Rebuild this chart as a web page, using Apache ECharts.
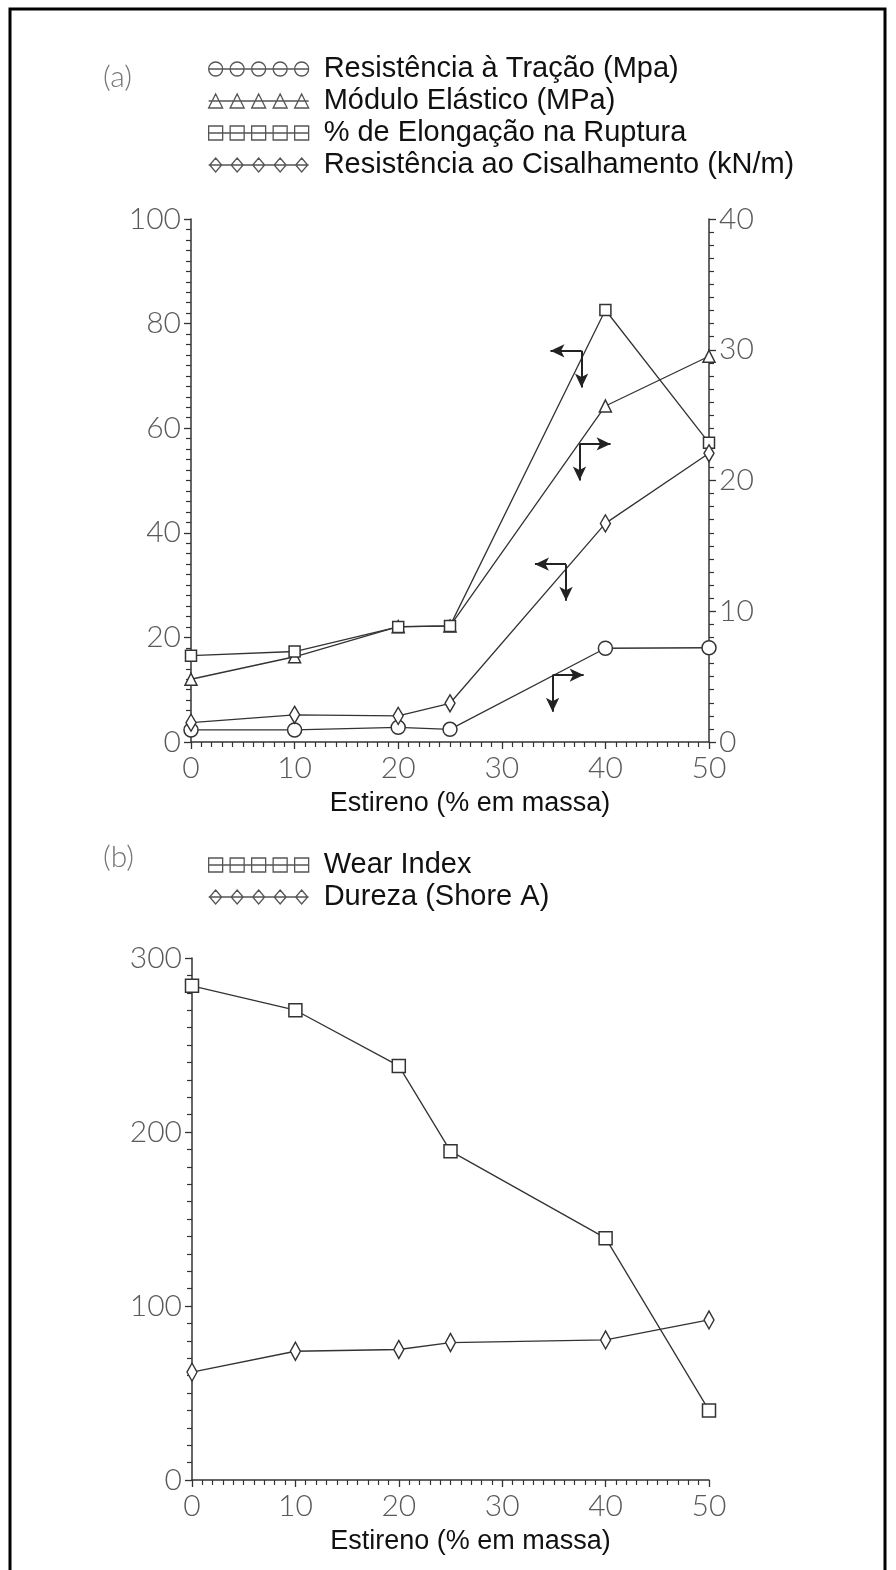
<!DOCTYPE html>
<html><head><meta charset="utf-8">
<script src="https://cdn.jsdelivr.net/npm/echarts@6/dist/echarts.min.js"></script>
<style>html,body{margin:0;padding:0;background:#fff}#c{width:896px;height:1570px}</style>
</head><body><div id="c"></div>
<script>
// ---- data ----
const styrene = [0, 10, 20, 25, 40, 50];
const tracao = [0.92, 0.92, 1.12, 0.97, 7.17, 7.21];          // right axis
const modulo = [4.80, 6.52, 8.82, 8.87, 25.7, 29.5];          // right axis
const elongacao = [16.5, 17.3, 22.0, 22.2, 82.6, 57.2];       // left axis
const cisalhamento = [3.7, 5.2, 5.0, 7.4, 41.8, 55.2];        // left axis
const wearIndex = [284, 270, 238, 189, 139, 40];
const dureza = [62, 74, 75, 79, 80.5, 92];
const namesA = ['Resistência à Tração (Mpa)', 'Módulo Elástico (MPa)', '% de Elongação na Ruptura', 'Resistência ao Cisalhamento (kN/m)'];
const namesB = ['Wear Index', 'Dureza (Shore A)'];
const xAxisTitle = 'Estireno (% em massa)';
// arrow annotations: [x, y on left axis, horizontal direction]
const arrowsA = [[37.7, 74.8, 'left'], [37.5, 57.0, 'right'], [36.2, 34.0, 'left'], [34.9, 12.8, 'right']];

// ---- helpers ----
const pts = arr => styrene.map((x, i) => [x, arr[i]]);
const ink = '#333';
const tickFont = { fontFamily: 'Lato', fontWeight: 300, fontSize: 30, color: '#5a5a5a' };
function iconPath(kind) {
  const cs = [7, 28.5, 50, 71.5, 93];
  let d = 'M0 7 L100 7 ';
  cs.forEach(c => {
    if (kind === 'circle') d += `M${c - 7} 7 A7 7 0 1 0 ${c + 7} 7 A7 7 0 1 0 ${c - 7} 7 `;
    if (kind === 'triangle') d += `M${c - 7} 14 L${c} 0 L${c + 7} 14 Z `;
    if (kind === 'rect') d += `M${c - 7} 0 L${c + 7} 0 L${c + 7} 14 L${c - 7} 14 Z `;
    if (kind === 'diamond') d += `M${c} 0 L${c + 6} 7 L${c} 14 L${c - 6} 7 Z `;
  });
  return 'path://' + d;
}
function lineSeries(name, data, symbol, size, xi, yi) {
  return {
    name, type: 'line', data: pts(data), xAxisIndex: xi, yAxisIndex: yi,
    symbol, symbolSize: size, showSymbol: true,
    lineStyle: { color: ink, width: 1.3 },
    itemStyle: { color: '#fff', borderColor: ink, borderWidth: 1.5 },
    emphasis: { disabled: true }, animation: false
  };
}
function arrowLines() {
  const out = [];
  arrowsA.forEach(([x, y, dir]) => {
    out.push([{ coord: [x, y] }, { coord: [dir === 'left' ? x - 3 : x + 3, y] }]);
    out.push([{ coord: [x, y] }, { coord: [x, y - 7] }]);
  });
  return out;
}
const xAxisBase = (gi) => ({
  type: 'value', gridIndex: gi, min: 0, max: 50, interval: 10,
  axisLine: { lineStyle: { color: ink, width: 1.5 } },
  axisTick: { length: 7, lineStyle: { color: ink, width: 1.3 } },
  minorTick: { show: true, splitNumber: 10, length: 5, lineStyle: { color: ink, width: 1.2 } },
  splitLine: { show: false },
  axisLabel: Object.assign({ margin: 11 }, tickFont),
  name: xAxisTitle, nameLocation: 'middle', nameGap: 48,
  nameTextStyle: { fontFamily: 'Liberation Sans', fontSize: 27, color: '#111', padding: [0, 0, 0, 40] }
});
const yAxisBase = (gi, max, interval, pos) => ({
  type: 'value', gridIndex: gi, min: 0, max, interval, position: pos,
  axisLine: { show: true, lineStyle: { color: ink, width: 1.5 } },
  axisTick: { show: true, length: 7, lineStyle: { color: ink, width: 1.3 } },
  minorTick: { show: true, splitNumber: 10, length: 5, lineStyle: { color: ink, width: 1.2 } },
  splitLine: { show: false },
  axisLabel: Object.assign({ margin: 10 }, tickFont)
});
const legendBase = {
  orient: 'vertical', left: 203, itemWidth: 100, itemHeight: 14, itemGap: 2,
  selectedMode: false,
  itemStyle: { color: '#fff', borderColor: '#555', borderWidth: 1.3 },
  textStyle: { fontFamily: 'Liberation Sans', fontSize: 29, color: '#111', lineHeight: 30, padding: [0, 0, 0, 10] }
};

const chart = echarts.init(document.getElementById('c'), null, { renderer: 'canvas' });
const elong = lineSeries(namesA[2], elongacao, 'rect', 11, 0, 0);
elong.markLine = {
  silent: true, symbol: ['none', 'arrow'], symbolSize: [10, 14],
  label: { show: false }, lineStyle: { color: '#222', width: 2, type: 'solid' },
  data: arrowLines(), animation: false
};
chart.setOption({
  backgroundColor: '#fff',
  animation: false,
  grid: [
    { left: 191, right: 187, top: 219, bottom: 828 },
    { left: 192, right: 187, top: 958, bottom: 90 }
  ],
  xAxis: [xAxisBase(0), xAxisBase(1)],
  yAxis: [yAxisBase(0, 100, 20, 'left'), yAxisBase(0, 40, 10, 'right'), yAxisBase(1, 300, 100, 'left')],
  legend: [
    Object.assign({}, legendBase, { top: 49, data: [
      { name: namesA[0], icon: iconPath('circle') },
      { name: namesA[1], icon: iconPath('triangle') },
      { name: namesA[2], icon: iconPath('rect') },
      { name: namesA[3], icon: iconPath('diamond') }
    ] }),
    Object.assign({}, legendBase, { top: 845, data: [
      { name: namesB[0], icon: iconPath('rect') },
      { name: namesB[1], icon: iconPath('diamond') }
    ] })
  ],
  graphic: [
    { type: 'rect', shape: { x: 10, y: 9, width: 875, height: 1590 }, style: { fill: 'none', stroke: '#000', lineWidth: 3 }, silent: true },
    { type: 'text', left: 103, top: 62, style: { text: '(a)', fontFamily: 'Lato', fontWeight: 300, fontSize: 30, fill: '#777' } },
    { type: 'text', left: 103, top: 842, style: { text: '(b)', fontFamily: 'Lato', fontWeight: 300, fontSize: 30, fill: '#777' } }
  ],
  series: [
    lineSeries(namesA[0], tracao, 'circle', 14, 0, 1),
    lineSeries(namesA[1], modulo, 'triangle', 12, 0, 1),
    elong,
    lineSeries(namesA[3], cisalhamento, 'diamond', [10, 17], 0, 0),
    lineSeries(namesB[0], wearIndex, 'rect', 13, 1, 2),
    lineSeries(namesB[1], dureza, 'diamond', [10, 18], 1, 2)
  ]
});
</script></body></html>
